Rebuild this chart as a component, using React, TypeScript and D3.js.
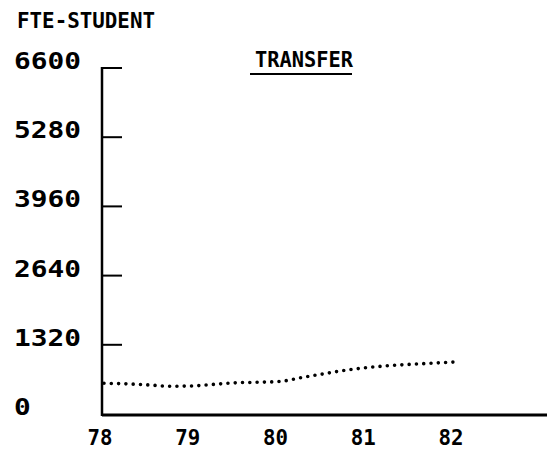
import React from "react";
import * as d3 from "d3";

// FTE students, transfer program, by year (quarter-year readings)
const years = [78, 78.25, 78.5, 78.75, 79, 79.25, 79.5, 79.75, 80, 80.25, 80.5, 80.75, 81, 81.25, 81.5, 81.75, 82];
const fte = [586, 575, 555, 530, 535, 565, 595, 605, 620, 695, 765, 835, 885, 922, 948, 970, 992];
const yTicks = [0, 1320, 2640, 3960, 5280, 6600];
const xTicks = [78, 79, 80, 81, 82];

const App: React.FC = () => {
  const width = 549;
  const height = 452;
  const font = "'DejaVu Sans Mono', monospace";

  const x = d3.scaleLinear().domain([78, 82]).range([104, 455]);
  const y = d3.scaleLinear().domain([0, 6600]).range([414, 68]);
  const axisX = 102;

  const line = d3
    .line<number>()
    .x((_, i) => x(years[i]))
    .y((d) => y(d))
    .curve(d3.curveMonotoneX);

  return (
    <svg
      width={width}
      height={height}
      viewBox={`0 0 ${width} ${height}`}
      style={{ position: "absolute", left: 0, top: 0, background: "#fff" }}
    >
      <text x={17} y={28} fontFamily={font} fontWeight="bold" fontSize={20.5} textLength={138} lengthAdjust="spacingAndGlyphs">
        FTE-STUDENT
      </text>
      <text x={255} y={67} fontFamily={font} fontWeight="bold" fontSize={20.5} textLength={98} lengthAdjust="spacingAndGlyphs">
        TRANSFER
      </text>
      <line x1={250} x2={352} y1={74} y2={74} stroke="#000" strokeWidth={2} />

      {/* y axis */}
      <line x1={axisX} x2={axisX} y1={y(6600) - 1} y2={y(0) + 2} stroke="#000" strokeWidth={2.5} />
      {yTicks.map((t) => (
        <g key={t}>
          {t > 0 && <line x1={axisX} x2={axisX + 20} y1={y(t)} y2={y(t)} stroke="#000" strokeWidth={2} />}
          <text
            x={14}
            y={y(t) + 1}
            fontFamily={font}
            fontWeight="bold"
            fontSize={23}
            textLength={String(t).length * 16.75}
            lengthAdjust="spacingAndGlyphs"
          >
            {t}
          </text>
        </g>
      ))}

      {/* x axis */}
      <line x1={axisX} x2={547} y1={y(0) + 1} y2={y(0) + 1} stroke="#000" strokeWidth={3} />
      {xTicks.map((t) => (
        <text
          key={t}
          x={x(t) - 4}
          y={445}
          textAnchor="middle"
          fontFamily={font}
          fontSize={22}
          fontWeight="bold"
          textLength={25}
          lengthAdjust="spacingAndGlyphs"
        >
          {t}
        </text>
      ))}

      {/* dotted series */}
      <path
        d={line(fte) ?? ""}
        fill="none"
        stroke="#000"
        strokeWidth={3.6}
        strokeLinecap="round"
        strokeDasharray="0 7.3"
      />
    </svg>
  );
};

export default App;
